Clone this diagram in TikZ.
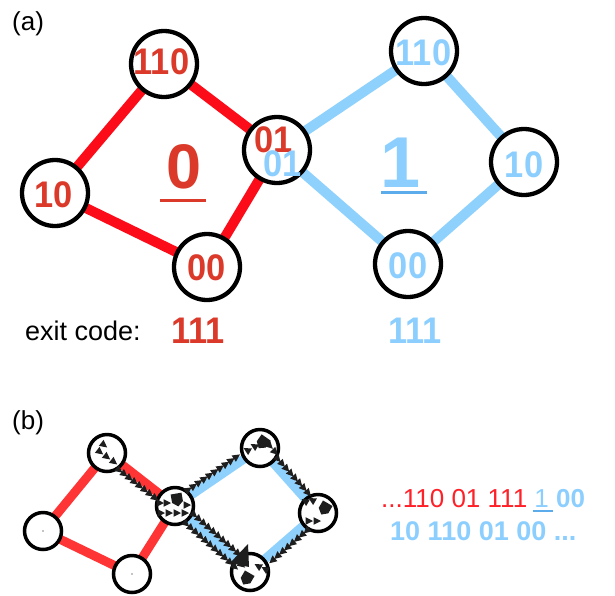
\documentclass[tikz,border=0pt]{standalone}
\usepackage{fontspec}
\setmainfont{Liberation Sans}
\newfontfamily\condfont[FakeStretch=0.93]{Liberation Sans}
\usetikzlibrary{decorations.markings,backgrounds}
\definecolor{redtxt}{RGB}{219,57,41}
\definecolor{redA}{RGB}{252,12,24}
\definecolor{redB}{RGB}{255,52,52}
\definecolor{redtxtb}{RGB}{255,32,40}
\definecolor{blueA}{RGB}{142,209,253}
\definecolor{bluetxt}{RGB}{140,207,255}
\definecolor{blueul}{RGB}{92,172,236}
\definecolor{mk}{RGB}{30,30,30}
\newcommand{\lblfont}{\condfont\bfseries\fontsize{37}{37}\selectfont}
\newcommand{\myul}[1]{\rlap{\kern-1pt\textcolor{blueul}{\rule[-5pt]{20pt}{2pt}}}#1}
\begin{document}
\begin{tikzpicture}[x=1pt,y=-1pt,
  bigstate/.style={circle,draw=black,line width=4.3pt,fill=white,minimum size=66pt,inner sep=0pt},
  smallstate/.style={circle,draw=black,line width=3.5pt,fill=white,minimum size=37pt,inner sep=0pt},
  lbl/.style={anchor=base,inner sep=0pt,font=\lblfont},
  edgeA/.style={line width=10pt},
  edgeB/.style={line width=9pt},
  saw/.style={decorate,decoration={markings,mark=between positions 0.0 and 1 step 6.5pt with {\fill[mk] (-3.5,#1-3.8) -- (4,#1) -- (-3.5,#1+3.8) -- cycle;}}},
  tri/.pic={\fill[mk] (-3.5,-3.8) -- (4,0) -- (-3.5,3.8) -- cycle;},
  house/.pic={\fill[mk] (-5.5,-5.5) -- (5.5,-5.5) -- (5.5,3) -- (0,7.5) -- (-5.5,3) -- cycle;}
]
\useasboundingbox (0,0) rectangle (615,595);

% ---------------- (a) ----------------
\node[anchor=base west,inner sep=0pt,font=\fontsize{26}{26}\selectfont] (laba) at (12,30) {(a)};

\node[bigstate] (ar110) at (164,64) {};
\node[bigstate] (ar10) at (55,193) {};
\node[bigstate] (am01) at (277,150) {};
\node[bigstate] (ar00) at (207,267) {};
\node[bigstate] (ab110) at (424,51) {};
\node[bigstate] (ab10) at (524,162) {};
\node[bigstate] (ab00) at (408,264) {};

\begin{scope}[on background layer]
\draw[edgeA,redA] (ar110.center) -- (ar10.center);
\draw[edgeA,redA] (ar10.center) -- (ar00.center);
\draw[edgeA,redA] (ar00.center) -- (am01.center);
\draw[edgeA,redA] (am01.center) -- (ar110.center);
\draw[edgeA,blueA] (am01.center) -- (ab110.center);
\draw[edgeA,blueA] (ab110.center) -- (ab10.center);
\draw[edgeA,blueA] (ab10.center) -- (ab00.center);
\draw[edgeA,blueA] (ab00.center) -- (am01.center);
\end{scope}

\node[lbl,text=redtxt] (tr110) at (161.5,74) {110};
\node[lbl,text=redtxt] (tr10) at (53.5,207) {10};
\node[lbl,text=redtxt] (tr01) at (273.5,152) {01};
\node[lbl,text=bluetxt] (tb01) at (283,176) {01};
\node[lbl,text=redtxt] (tr00) at (207,280) {00};
\node[lbl,text=bluetxt] (tb110) at (423.5,65) {110};
\node[lbl,text=bluetxt] (tb10) at (524,177) {10};
\node[lbl,text=bluetxt] (tb00) at (408,278) {00};

\node[anchor=base,inner sep=0pt,text=redtxt,font=\bfseries\fontsize{63}{63}\selectfont] (big0) at (184,188) {0};
\coordinate (u0a) at (160,200);
\coordinate (u0b) at (206,200);
\draw[redtxt,line width=3pt] (u0a) -- (u0b);
\node[anchor=base,inner sep=0pt,text=bluetxt,font=\bfseries\fontsize{72}{72}\selectfont] (big1) at (401,187) {1};
\coordinate (u1a) at (381,192);
\coordinate (u1b) at (427,192);
\draw[blueul,line width=3pt] (u1a) -- (u1b);

\node[anchor=base west,inner sep=0pt,font=\fontsize{27}{27}\selectfont] (exit) at (25,340) {exit code:};
\node[anchor=base,inner sep=0pt,text=redtxt,font=\condfont\bfseries\fontsize{37}{37}\selectfont] (exr) at (198,343) {111};
\node[anchor=base,inner sep=0pt,text=bluetxt,font=\condfont\bfseries\fontsize{37}{37}\selectfont] (exb) at (415,343) {111};

% ---------------- (b) ----------------
\node[anchor=base west,inner sep=0pt,font=\fontsize{26}{26}\selectfont] (labb) at (12,429) {(b)};

\node[smallstate] (btl) at (107,453) {};
\node[smallstate] (bl) at (43,531) {};
\node[smallstate] (bb) at (132,574) {};
\node[smallstate] (bm) at (175,506) {};
\node[smallstate] (bt) at (260,448) {};
\node[smallstate] (br) at (318,513) {};
\node[smallstate] (bbb) at (250,572) {};

\begin{scope}[on background layer]
\draw[edgeB,redB] (btl.center) -- (bl.center);
\draw[edgeB,redB] (bl.center) -- (bb.center);
\draw[edgeB,redB] (bb.center) -- (bm.center);
\draw[edgeB,redB] (bm.center) -- (btl.center);
\draw[edgeB,blueA] (bm.center) -- (bt.center);
\draw[edgeB,blueA] (bt.center) -- (br.center);
\draw[edgeB,blueA] (br.center) -- (bbb.center);
\draw[edgeB,blueA] (bbb.center) -- (bm.center);
\end{scope}

\fill[black] (bl.center) circle (0.6);
\fill[black] (bb.center) circle (0.6);

% trajectory marks along edges
\path[saw=6] (btl) -- (bm);
\path[saw=-6] (bm) -- (bt);
\path[saw=-6] (bt) -- (br);
\path[saw=-6] (br) -- (bbb);
\path[saw=6] (bm) -- (bbb);
\path[saw=-6] (bm) -- (bbb);

% marks inside the states
\pic[rotate=-38] at (100,452) {tri};
\pic[rotate=-38] at (107,457) {tri};
\pic[rotate=-38] at (114,462) {tri};
\pic[rotate=-38] at (104,445) {tri};

\pic[rotate=10] at (177,499) {house};
\pic at (160,503) {tri};
\pic at (167,503) {tri};
\pic at (187,505) {tri};
\pic at (161,513) {tri};
\pic at (169,513) {tri};
\pic at (177,513) {tri};
\pic at (185,513) {tri};

\pic[rotate=-35] at (263,442) {house};
\pic[rotate=150] at (247,450) {tri};
\pic[rotate=150] at (254,446) {tri};
\pic[rotate=-45] at (270,446) {tri};
\pic[rotate=-45] at (275,452) {tri};

\pic[rotate=-30] at (325,508) {house};
\pic[rotate=150] at (305,501) {tri};
\pic[rotate=150] at (312,500) {tri};
\pic at (309,521) {tri};
\pic at (317,521) {tri};

\pic[rotate=-30] at (247,578) {house};
\pic[rotate=-40] at (235,567) {tri};
\pic[rotate=-40] at (242,565) {tri};
\pic[rotate=150] at (258,566) {tri};
\pic[rotate=150] at (265,569) {tri};
\coordinate (arA) at (248,544);
\coordinate (arB) at (230,563);
\coordinate (arC) at (249,567);
\fill[mk] (arA) -- (arB) -- (arC) -- cycle;

% sequence text
\node[anchor=base west,inner sep=0pt,font=\fontsize{26}{26}\selectfont] (seq1) at (381,507)
  {\textcolor{redtxtb}{...110 01 111} \textcolor{bluetxt}{\myul{1}} \textcolor{bluetxt}{\bfseries 00}};
\node[anchor=base west,inner sep=0pt,text=bluetxt,font=\bfseries\fontsize{27}{27}\selectfont] (seq2) at (390,540)
  {10 110 01 00 ...};
\end{tikzpicture}
\end{document}
